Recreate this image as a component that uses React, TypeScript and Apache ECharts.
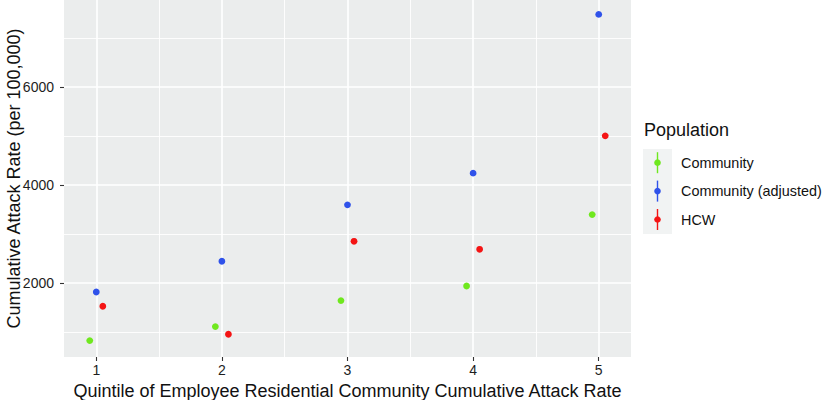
import React, { useEffect, useRef } from "react";
import * as echarts from "echarts";

const quintiles = [1, 2, 3, 4, 5];
const community = [825, 1110, 1640, 1937, 3394];
const communityAdjusted = [1815, 2443, 3593, 4239, 7476];
const hcw = [1526, 953, 2849, 2686, 5000];

const seriesNames = ["Community", "Community (adjusted)", "HCW"];
const seriesColors = ["#6FE81E", "#2F52EA", "#F41414"];
const dodge = [-0.052, 0, 0.052];

const xMajorTicks = [1, 2, 3, 4, 5];
const xMinorTicks = [1.5, 2.5, 3.5, 4.5];
const yMajorTicks = [2000, 4000, 6000];
const yMinorTicks = [1000, 3000, 5000, 7000];

const FONT = "Liberation Sans, Arial, Helvetica, sans-serif";

export default function App() {
  const ref = useRef<HTMLDivElement>(null);
  useEffect(() => {
    if (!ref.current) return;
    const chart = echarts.init(ref.current, undefined, { renderer: "svg" });
    const allValues = [community, communityAdjusted, hcw];
    const xMin = 0.743;
    const xMax = 5.257;
    const yMin = 490;
    const yMax = 7770;
    const tickStyle = { color: "#333333", width: 1.1 };
    const labelStyle = { fontSize: 14, color: "#1e1e1e", fontFamily: FONT };

    // legend layout
    const legendTop = 150.7;
    const itemH = 24;
    const itemGap = 4.4;
    const iconW = 37;
    const dotSize = 6.6;
    const iconCenterX = 657.5;
    // ECharts aligns the legend by its content bounds, which start at the centred dot
    const legendLeft = iconCenterX - dotSize / 2;
    const keyLines = seriesNames.map((n, i) => {
      const cy = legendTop + itemH / 2 + i * (itemH + itemGap);
      return {
        type: "line",
        z: 1,
        shape: { x1: iconCenterX, y1: cy - 10.5, x2: iconCenterX, y2: cy + 10.5 },
        style: { stroke: seriesColors[i], lineWidth: 1.4 },
      };
    });

    chart.setOption({
      animation: false,
      grid: {
        left: 64,
        right: 194,
        top: 0,
        bottom: 43,
        show: true,
        backgroundColor: "#EBEDED",
        borderWidth: 0,
        containLabel: false,
        outerBoundsMode: "none",
      },
      xAxis: [
        {
          type: "value",
          min: xMin,
          max: xMax,
          axisLine: { show: false },
          axisTick: { show: true, length: 4, customValues: xMajorTicks, lineStyle: tickStyle },
          axisLabel: { ...labelStyle, customValues: xMajorTicks, margin: 6, formatter: (v: number) => String(v) },
          splitLine: { show: true, lineStyle: { color: "#ffffff", width: 1.6 } },
          name: "Quintile of Employee Residential Community Cumulative Attack Rate",
          nameLocation: "middle",
          nameGap: 24,
          nameTextStyle: { fontSize: 18, color: "#111", fontFamily: FONT },
        },
        {
          type: "value",
          min: xMin,
          max: xMax,
          position: "bottom",
          axisLine: { show: false },
          axisTick: { show: false, customValues: xMinorTicks },
          axisLabel: { show: false, customValues: xMinorTicks },
          splitLine: { show: true, lineStyle: { color: "#ffffff", width: 0.9 } },
        },
      ],
      yAxis: [
        {
          type: "value",
          min: yMin,
          max: yMax,
          axisLine: { show: false },
          axisTick: { show: true, length: 4, customValues: yMajorTicks, lineStyle: tickStyle },
          axisLabel: { ...labelStyle, customValues: yMajorTicks, margin: 10, formatter: (v: number) => String(v) },
          splitLine: { show: true, lineStyle: { color: "#ffffff", width: 1.6 } },
          name: "Cumulative Attack Rate (per 100,000)",
          nameLocation: "middle",
          nameGap: 41,
          nameMoveOverlap: false,
          nameTextStyle: { fontSize: 18, color: "#111", fontFamily: FONT },
        },
        {
          type: "value",
          min: yMin,
          max: yMax,
          position: "left",
          axisLine: { show: false },
          axisTick: { show: false, customValues: yMinorTicks },
          axisLabel: { show: false, customValues: yMinorTicks },
          splitLine: { show: true, lineStyle: { color: "#ffffff", width: 0.9 } },
        },
      ],
      legend: {
        orient: "vertical",
        left: legendLeft,
        top: legendTop,
        padding: 0,
        itemWidth: iconW,
        itemHeight: dotSize,
        itemGap: itemGap,
        textStyle: { fontSize: 14.4, color: "#111", fontFamily: FONT, lineHeight: itemH },
        data: seriesNames.map((n, i) => ({
          name: n,
          icon: "circle",
          itemStyle: { color: seriesColors[i], borderWidth: 0 },
        })),
      },
      graphic: [
        {
          type: "rect",
          z: 0,
          shape: { x: 643, y: 149, width: 29, height: 85 },
          style: { fill: "#F1F3F3" },
        },
        ...keyLines,
        {
          type: "text",
          z: 1,
          x: 644,
          y: 121,
          style: { text: "Population", fontSize: 18, fill: "#111", font: `18px ${FONT}` },
        },
      ],
      series: seriesNames.map((name, i) => ({
        name,
        type: "scatter",
        symbol: "circle",
        symbolSize: 6.8,
        itemStyle: { color: seriesColors[i], opacity: 1 },
        data: quintiles.map((q, j) => [q + dodge[i], allValues[i][j]]),
      })),
    });
    return () => chart.dispose();
  }, []);
  return <div ref={ref} style={{ width: 825, height: 400, position: "absolute", left: 0, top: 0 }} />;
}
